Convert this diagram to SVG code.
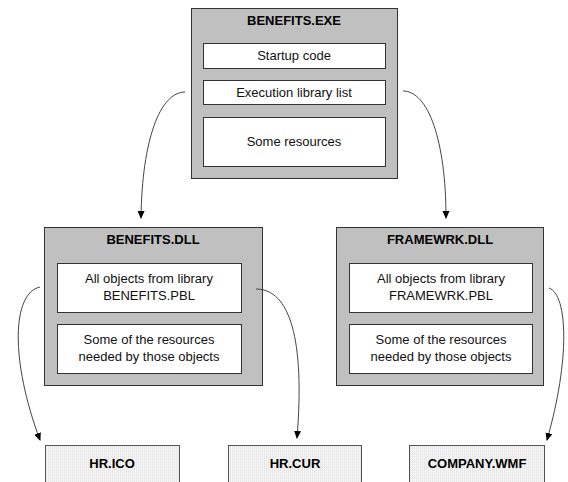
<svg xmlns="http://www.w3.org/2000/svg" width="568" height="482" viewBox="0 0 568 482">
<style>
.outer{fill:#c0c0c0;stroke:#333;stroke-width:1}
.inner{fill:#fff;stroke:#333;stroke-width:1}
.file{fill:url(#dots);stroke:#555;stroke-width:1}
.t{font-family:"Liberation Sans",Arial,sans-serif;font-size:13px;fill:#111;text-anchor:middle}
.b{font-weight:bold;fill:#000}
.c{fill:none;stroke:#444;stroke-width:1;marker-end:url(#ah)}
</style>
<defs>
<marker id="ah" viewBox="0 0 8 8" refX="7" refY="4" markerWidth="8" markerHeight="8" orient="auto" markerUnits="userSpaceOnUse">
<path d="M0,0.5 L8,4 L0,7.5 Z" fill="#000"/>
</marker>
<pattern id="dots" width="2" height="2" patternUnits="userSpaceOnUse">
<rect width="2" height="2" fill="#fff"/>
<rect width="1" height="2" fill="#e4e4e4"/>
<rect width="2" height="1" fill="#ececec"/>
</pattern>
</defs>
<g id="benefits-exe">
<rect class="outer" x="191.5" y="8.5" width="206" height="170"/>
<text class="t b" x="294" y="25">BENEFITS.EXE</text>
<rect class="inner" x="203.5" y="43.5" width="182" height="25"/>
<text class="t" x="294" y="60">Startup code</text>
<rect class="inner" x="203.5" y="80.5" width="182" height="24"/>
<text class="t" x="294" y="97">Execution library list</text>
<rect class="inner" x="203.5" y="117.5" width="182" height="49"/>
<text class="t" x="294" y="146">Some resources</text>
</g>
<g id="benefits-dll">
<rect class="outer" x="44.5" y="227.5" width="218" height="158"/>
<text class="t b" x="153" y="244">BENEFITS.DLL</text>
<rect class="inner" x="57.5" y="263.5" width="184" height="49"/>
<text class="t" x="149" y="283">All objects from library</text>
<text class="t" x="149" y="300">BENEFITS.PBL</text>
<rect class="inner" x="57.5" y="324.5" width="184" height="49"/>
<text class="t" x="149" y="344">Some of the resources</text>
<text class="t" x="149" y="361">needed by those objects</text>
</g>
<g id="framewrk-dll">
<rect class="outer" x="336.5" y="227.5" width="207" height="158"/>
<text class="t b" x="440" y="244">FRAMEWRK.DLL</text>
<rect class="inner" x="349.5" y="263.5" width="183" height="49"/>
<text class="t" x="441" y="283">All objects from library</text>
<text class="t" x="441" y="300">FRAMEWRK.PBL</text>
<rect class="inner" x="349.5" y="324.5" width="183" height="49"/>
<text class="t" x="441" y="344">Some of the resources</text>
<text class="t" x="441" y="361">needed by those objects</text>
</g>
<g id="hr-ico">
<rect class="file" x="45.5" y="445.5" width="134" height="60"/>
<text class="t b" x="112" y="468">HR.ICO</text>
</g>
<g id="hr-cur">
<rect class="file" x="228.5" y="445.5" width="133" height="60"/>
<text class="t b" x="295" y="468">HR.CUR</text>
</g>
<g id="company-wmf">
<rect class="file" x="409.5" y="445.5" width="135" height="60"/>
<text class="t b" x="477" y="468">COMPANY.WMF</text>
</g>
<g id="connectors">
<path class="c" d="M185,92 C160,92 142,140 141,218"/>
<path class="c" d="M403,91 C428,91 446,140 446,218"/>
<path class="c" d="M40,287 C12,293 10,360 40,440"/>
<path class="c" d="M256,289 C290,289 305,340 297,438"/>
<path class="c" d="M549,288 C568,295 570,360 547,440"/>
</g>
</svg>
